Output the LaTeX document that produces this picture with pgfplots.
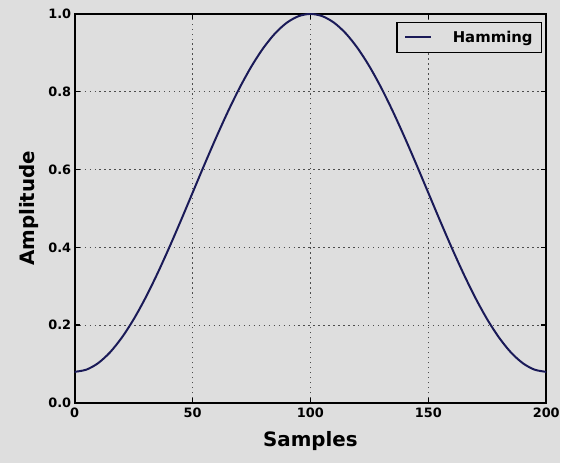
\documentclass[border=0pt]{standalone}
\usepackage{pgfplots}
\pgfplotsset{compat=1.18}
\usepackage{fontspec}
\setmainfont{DejaVu Sans}
\definecolor{bgc}{RGB}{222,222,222}
\definecolor{navy}{RGB}{26,26,88}
\begin{document}
\begin{tikzpicture}
\fill[bgc] (-75bp,-60bp) rectangle (488bp,405bp);
\begin{axis}[
  scale only axis,
  width=474bp, height=391bp,
  xmin=0, xmax=200, ymin=0, ymax=1,
  xtick={0,50,100,150,200},
  ytick={0,0.2,0.4,0.6,0.8,1.0},
  yticklabel style={/pgf/number format/fixed,/pgf/number format/fixed zerofill,/pgf/number format/precision=1},
  /pgf/number format/assume math mode=true,
  tick label style={font=\fontsize{13}{13}\selectfont\bfseries},
  xticklabel style={yshift=-1bp},
  axis line style={line width=2bp, black},
  major tick length=5bp,
  every tick/.style={black, line width=1.5bp},
  grid=major,
  major grid style={black!70, line width=1.3bp, dash pattern=on 1.3bp off 3.7bp},
  xlabel={Samples}, ylabel={Amplitude},
  label style={font=\fontsize{20}{20}\selectfont\bfseries},
  xlabel style={at={(axis description cs:0.5,-0.098)}, anchor=center, inner sep=0pt},
  ylabel style={at={(axis description cs:-0.097,0.5)}, anchor=center, inner sep=0pt},
  legend style={at={(1,1)}, xshift=-4bp, yshift=-8bp, anchor=north east,
    draw=black, line width=1.5bp, fill=bgc, font=\fontsize{15}{15}\selectfont\bfseries,
    inner xsep=7bp, inner ysep=6.5bp},
  legend image code/.code={\draw[#1, line width=2bp] (0bp,0bp) -- (26bp,0bp);},
  legend cell align=left,
]
\addplot[navy, line width=2bp, smooth] coordinates {
(0,0.0800) (5,0.0857) (10,0.1025) (15,0.1301) (20,0.1679) (25,0.2147)
(30,0.2696) (35,0.3312) (40,0.3979) (45,0.4680) (50,0.5400) (55,0.6120)
(60,0.6821) (65,0.7488) (70,0.8104) (75,0.8653) (80,0.9121) (85,0.9499)
(90,0.9775) (95,0.9943) (100,1.0000)
(105,0.9943) (110,0.9775) (115,0.9499) (120,0.9121) (125,0.8653) (130,0.8104)
(135,0.7488) (140,0.6821) (145,0.6120) (150,0.5400) (155,0.4680) (160,0.3979)
(165,0.3312) (170,0.2696) (175,0.2147) (180,0.1679) (185,0.1301) (190,0.1025)
(195,0.0857) (200,0.0800)
};
\addlegendentry{\hspace{19bp}Hamming}
\end{axis}
\end{tikzpicture}
\end{document}
